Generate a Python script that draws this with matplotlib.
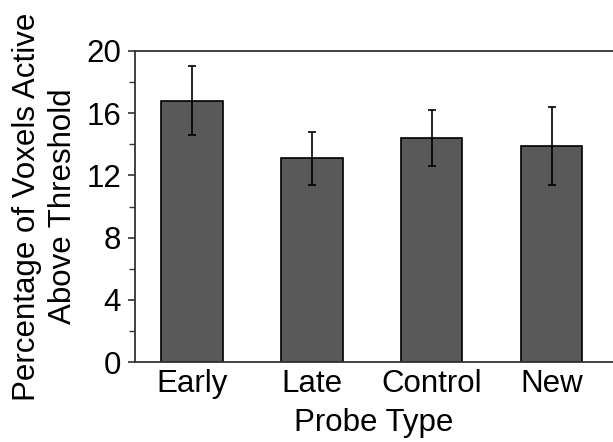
import numpy as np
import matplotlib.pyplot as plt

plt.rcParams['font.family'] = ['Liberation Sans', 'DejaVu Sans']

categories = ['Early', 'Late', 'Control', 'New']
means = [16.8, 13.1, 14.4, 13.9]
errors = [2.2, 1.7, 1.8, 2.5]

fig = plt.figure(figsize=(6.13, 4.42), dpi=100)
ax = fig.add_axes([0.2202, 0.1803, 0.7798, 0.705])

x = np.arange(len(categories))
ax.bar(x, means, width=0.51, color='#595959', edgecolor='black', linewidth=1.2,
       yerr=errors, capsize=3, error_kw=dict(ecolor='black', elinewidth=1.2, capthick=1.2),
       zorder=2)

ax.set_xlim(-0.475, 3.51)
ax.set_ylim(0, 20)
ax.set_xticks(x)
ax.set_xticklabels(categories)
ax.set_yticks(np.arange(0, 21, 4))
ax.set_yticks(np.arange(2, 20, 4), minor=True)

fs = 22.5
ax.tick_params(axis='x', length=0, pad=5, labelsize=fs)
ax.tick_params(axis='y', which='major', length=5, width=1.2, direction='out',
               labelsize=fs, pad=5, color='#333333')
ax.tick_params(axis='y', which='minor', length=4, width=1.0, direction='out',
               color='#333333')

for s in ['left', 'bottom', 'top']:
    ax.spines[s].set_color('#333333')
    ax.spines[s].set_linewidth(1.3)
ax.spines['right'].set_visible(False)

ax.set_xlabel('Probe Type', fontsize=fs, labelpad=6)
ax.set_ylabel('Percentage of Voxels Active\nAbove Threshold', fontsize=fs,
              labelpad=6, linespacing=1.25)

fig.savefig('out.png', dpi=100)
